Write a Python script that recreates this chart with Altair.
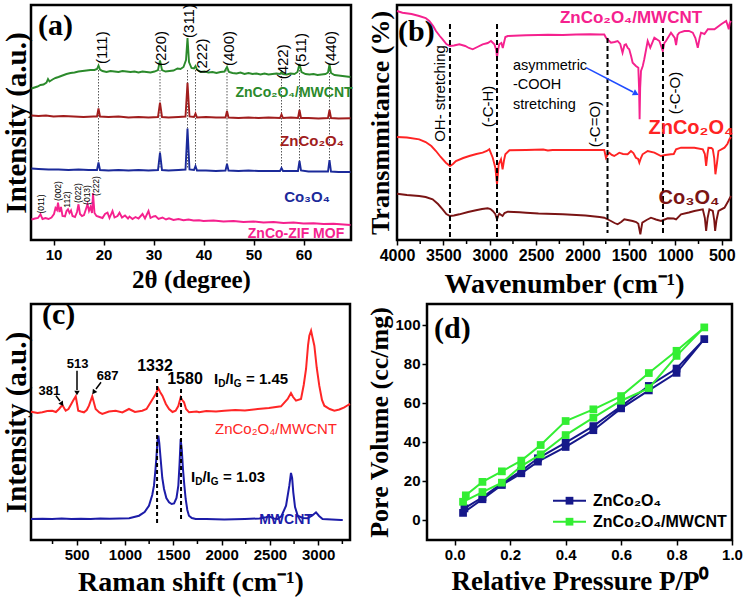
import altair as alt
import pandas as pd

SANS = "Liberation Sans"
SERIF = "Liberation Serif"

# ---------------- (a) XRD patterns: (2theta, intensity offset) ----------------
xrd_composite = [(5.6,151.5),(6.2,152.5),(6.8,153.5),(7.4,155.0),(8.0,155.5),(8.6,157.5),(8.9,161),(9.2,158.5),(9.8,160.5),(10.4,162.0),(11.0,163.0),(11.8,164.5),(12.6,166.0),(13.4,167.0),(14.2,167.5),(15.0,168.5),(15.8,169.0),(16.6,169.5),(17.4,170.0),(18.2,170.0),(18.7,171.0),(19.0,174.5),(19.3,170.5),(19.8,169.0),(20.6,168.0),(21.4,169.0),(22.2,168.5),(23.0,168.0),(23.8,169.0),(24.6,168.5),(25.4,168.0),(26.2,168.5),(27.0,167.5),(27.8,168.5),(28.6,168.0),(29.4,167.5),(30.2,168.5),(30.9,170.0),(31.3,179.5),(31.7,170.0),(32.4,168.5),(33.2,169.0),(34.0,169.5),(34.8,171.5),(35.4,171.0),(36.0,173.0),(36.5,180.0),(36.8,202.0),(37.1,178.0),(37.6,172.0),(38.1,171.5),(38.4,174.0),(38.7,170.5),(39.4,168.0),(40.2,168.5),(41.0,167.5),(41.8,168.0),(42.6,167.0),(43.4,168.0),(44.2,168.5),(44.7,173.0),(45.1,168.0),(45.8,167.0),(46.6,166.5),(47.4,167.5),(48.2,166.0),(49.0,167.0),(49.8,166.0),(50.6,166.5),(51.4,165.5),(52.2,166.5),(53.0,165.5),(53.8,166.0),(54.6,166.5),(55.3,166.0),(55.6,168.0),(55.9,166.0),(56.6,165.5),(57.4,166.5),(58.2,166.0),(58.8,168.0),(59.2,176.0),(59.6,168.0),(60.4,166.0),(61.2,165.5),(62.0,166.0),(62.8,165.0),(63.6,165.5),(64.4,166.0),(64.9,167.5),(65.2,175.5),(65.5,167.0),(66.2,165.0),(67.0,164.5),(67.8,164.0),(68.6,163.5),(69.4,163.0)]
xrd_spinel = [(5.6,124.5),(7,124),(8.5,124.5),(10,123.5),(12,124),(14,123.5),(16,123),(18,123.5),(18.7,123.5),(19.0,131.5),(19.3,123.5),(21,123),(23,123.5),(25,122.5),(27,123),(29,122.5),(30.9,123),(31.3,137.3),(31.7,123),(33,122.5),(35,123),(36.4,123.5),(36.8,157.3),(37.2,123.5),(38.1,123),(38.4,126.5),(38.7,122.5),(40.5,123),(42.5,122.5),(44.4,122.5),(44.7,129),(45.0,122.5),(47,122),(49,122.5),(51,122),(53,122.5),(55.3,122),(55.6,125.5),(55.9,122),(57.5,122.5),(58.9,122),(59.2,130),(59.5,122),(61,122),(63,121.5),(64.9,122),(65.2,130),(65.5,122),(67,121.5),(69.4,121.7)]
xrd_co3o4 = [(5.6,71.5),(7,71),(9,70.5),(11,70.5),(13,70),(15,70.5),(17,70),(18.7,70),(19.0,77.5),(19.3,70),(21,69.5),(23,70),(25,69.5),(27,70),(29,69.5),(30.9,70),(31.3,87.3),(31.7,70),(33,69.5),(35,70),(36.4,70.5),(36.8,111.5),(37.2,70.5),(38.1,70),(38.4,74),(38.7,69.5),(40.5,69.5),(42.5,69),(44.4,69.5),(44.7,76),(45.0,69.5),(47,69),(49,69.5),(51,69),(53,69),(55.3,69),(55.6,72),(55.9,69),(57.5,69),(58.9,69),(59.2,79),(59.5,69.5),(61,68.5),(63,68.5),(64.9,68.5),(65.2,80),(65.5,68.5),(67,68),(69.4,68)]
xrd_mof = [(5.6,20.5),(6.3,21.5),(6.9,22),(7.4,25.7),(7.8,21),(8.4,22),(9.0,21),(9.6,22.5),(10.1,26),(10.4,32),(10.7,30),(10.9,37.3),(11.2,28),(11.5,33),(11.8,24),(12.3,23.5),(12.6,29),(12.9,30.7),(13.2,27),(13.5,29.5),(13.8,24),(14.3,23),(14.7,28),(15.0,35.7),(15.3,26),(15.7,24),(16.1,25),(16.5,31),(16.8,35.7),(17.1,29),(17.4,33),(17.7,27),(17.9,46.7),(18.2,27),(18.6,24),(19.2,23),(19.8,22),(20.3,26),(20.8,27.3),(21.2,22),(21.8,29),(22.2,22.5),(22.8,24),(23.2,27.3),(23.7,22.5),(24.3,24.5),(24.9,21.5),(25.2,23.5),(25.8,21),(26.4,23),(27.0,21.5),(27.8,26),(28.3,21.5),(29.0,29),(29.4,22),(30.0,23.5),(30.4,24),(31.0,21),(31.8,22.5),(32.5,20.5),(33.1,21.7),(34,20),(35,21),(36,19.8),(37,20.5),(38,19.5),(39.1,19.7),(40,19),(42,19.5),(44,18.5),(46,19),(48,18),(50,18.5),(52,17.5),(54,18),(56,17),(58,17.5),(60,16.5),(62,16.8),(64,16),(66,16.2),(68,15.5),(69.4,15)]
spinel_peaks = [19.0, 31.3, 36.8, 38.4, 44.7, 55.6, 59.2, 65.2]
spinel_hkl = ["(111)", "(220)", "(311)", "(222)", "(400)", "(422)", "(511)", "(440)"]
mof_hkl = ["(011)", "(002)", "112)", "(022)", "(013)", "(222)"]
xrd_ticks = [10, 20, 30, 40, 50, 60]

# ---------------- (b) FTIR: (wavenumber, transmittance offset) ----------------
ftir_composite = [(4000,227),(3941,225.3),(3843,224),(3761,222),(3691,220),(3652,217),(3610,212),(3580,207),(3539,202),(3508,198.7),(3468,194),(3429,192),(3387,192.5),(3328,193.7),(3265,192),(3225,190),(3184,188.7),(3134,191),(3077,193.7),(3022,195),(2987,197),(2950,193.7),(2931,188),(2922,180.3),(2911,188),(2897,193.7),(2875,195),(2860,190),(2845,196),(2832,201),(2806,202),(2678,202.5),(2609,202.7),(2475,203),(2374,203.2),(2213,203),(2070,203.5),(1918,203.7),(1817,203.5),(1766,203.5),(1748,200.3),(1694,195.3),(1655,196),(1622,197),(1594,194),(1569,185.3),(1548,193),(1532,193.7),(1513,190),(1497,188.7),(1477,182),(1460,175.3),(1425,172),(1399,170.3),(1391,150),(1385,118.7),(1379,150),(1370,167),(1351,172),(1335,178.7),(1298,197),(1270,190.3),(1226,200.3),(1172,197),(1153,192),(1136,187),(1118,195),(1101,197),(1047,205.3),(1006,200),(992,193),(976,203),(957,205.3),(902,207),(854,207),(812,205.3),(784,200),(758,190.3),(738,200),(723,205.3),(686,204),(650,208.7),(578,208.7),(506,213.7),(452,217),(434,212),(424,208.7),(414,215),(400,217)]
ftir_spinel = [(4000,101),(3893,100.5),(3761,98.7),(3691,96),(3630,92),(3580,87),(3529,81),(3473,75.3),(3429,72),(3397,74),(3365,77),(3286,80),(3221,82),(3144,84),(3077,85.3),(3032,87),(3005,88.7),(2968,80.3),(2940,70.3),(2922,53.7),(2904,73.7),(2879,78.7),(2862,68.7),(2846,78),(2832,83.7),(2788,87.7),(2609,88),(2424,88.5),(2374,87.5),(2323,88),(2213,88),(1969,88),(1766,88),(1748,80.3),(1726,84),(1712,85.3),(1685,83),(1659,82),(1624,84),(1604,85.3),(1564,84),(1514,83.7),(1478,87),(1452,85),(1425,80.3),(1401,79),(1388,75.3),(1371,80),(1353,83.7),(1298,87),(1226,85.3),(1154,82),(1108,83),(1047,83.7),(1017,84),(992,88.7),(939,90.3),(795,90.3),(704,88.7),(682,84),(668,72),(652,85),(643,90.3),(611,90),(596,88.7),(581,80),(568,63.7),(551,75),(535,87),(470,90.3),(439,94),(417,98.7),(400,101)]
ftir_co3o4 = [(4000,44.3),(3893,43),(3761,42),(3691,41),(3616,38.7),(3558,34),(3508,28.7),(3468,24),(3429,22),(3387,22.5),(3328,23.7),(3234,26),(3149,27.7),(3083,29),(3023,29.7),(2992,29),(2968,27),(2941,24),(2922,18.7),(2906,23),(2897,24.3),(2862,22),(2841,25),(2806,26.3),(2678,25.8),(2609,25.3),(2475,24.5),(2213,23.7),(1969,22.5),(1817,21),(1766,20.3),(1726,18.5),(1694,17),(1655,15),(1622,13.7),(1584,16),(1550,18.7),(1513,18),(1460,17),(1422,16),(1399,14.3),(1386,8),(1377,3.7),(1366,10),(1356,15.3),(1310,18),(1263,20.3),(1209,18.5),(1154,17),(1082,19.7),(1017,19.5),(992,18.7),(939,23.7),(854,25.5),(795,27),(704,28.7),(682,20),(668,7),(652,20),(633,28.7),(596,27),(581,18),(571,7),(556,18),(535,27),(470,30.3),(429,37),(400,42)]
ftir_bands = [3429, 2922, 1731, 1133]
ftir_band_top = [214, 214, 200, 210]
ftir_band_bottom = [-2, -2, 5, 4]
ftir_ticks = [500, 1000, 1500, 2000, 2500, 3000, 3500, 4000]
ftir_minor_ticks = [750, 1250, 1750, 2250, 2750, 3250, 3750]

# ---------------- (c) Raman: (shift, intensity offset) ----------------
raman_composite = [(27,128.3),(95,127),(144,127.7),(195,129),(247,129.3),(285,128),(317,131),(351,135),(386,129.3),(415,131),(438,135),(462,139.3),(490,143.7),(516,129.3),(544,128.5),(575,127.7),(604,130),(627,134.3),(661,143.7),(696,131),(734,127.5),(765,126),(834,128.5),(903,129.3),(973,127.5),(1041,131),(1103,128),(1179,129.3),(1223,131),(1266,137.7),(1318,146),(1345,151.7),(1363,148),(1387,144.3),(1423,136),(1456,131),(1492,128),(1524,129.3),(1552,134),(1576,142.7),(1592,140),(1611,137.7),(1632,131),(1663,127.7),(1742,128.5),(1767,127.7),(1842,129),(1942,128.5),(2028,129.3),(2141,130),(2241,129.5),(2374,131),(2490,132),(2615,133.7),(2684,141),(2718,147),(2740,143),(2770,139.3),(2822,141),(2850,155),(2874,171),(2895,195),(2908,204.3),(2926,209.3),(2940,203),(2960,194.3),(2985,172),(3011,154.3),(3039,140),(3063,134.3),(3119,131),(3167,129.3),(3219,130.5),(3270,132.7),(3309,135),(3329,136)]
raman_mwcnt = [(27,21),(146,21.3),(245,21),(345,21.5),(444,21),(544,21.2),(644,21),(744,21.5),(843,21.3),(943,21.5),(1043,21.8),(1145,24.3),(1203,28),(1248,34.3),(1282,45),(1300,54.3),(1315,70),(1324,81),(1335,98),(1345,104.3),(1355,97),(1369,81),(1386,62),(1404,51),(1428,42),(1456,37.7),(1483,36),(1508,36.5),(1533,42),(1552,54.3),(1564,75),(1576,101),(1588,90),(1600,71),(1614,55),(1628,41),(1645,30),(1662,24.3),(1692,22),(1732,21),(1842,21),(2028,20.5),(2241,21),(2391,21.5),(2459,22.7),(2492,23.7),(2540,21.5),(2580,21),(2620,24),(2667,34.3),(2701,54.3),(2718,67),(2730,62),(2742,47.7),(2760,33),(2788,24.3),(2840,22),(2890,21.7),(2939,24.5),(2977,27.7),(3009,24),(3045,21),(3139,20.5),(3236,20),(3254,20)]
raman_bands = [1332, 1580]
raman_band_top = [161, 151]
raman_band_bottom = [14.3, 19.3]
raman_ticks = [500, 1000, 1500, 2000, 2500, 3000]
raman_minor_ticks = [250, 750, 1250, 1750, 2250, 2750, 3250]

# ---------------- (d) N2 isotherms: adsorption then desorption branch ----------------
p_zco = [0.03, 0.1, 0.17, 0.24, 0.3, 0.4, 0.5, 0.6, 0.7, 0.8, 0.9, 0.8, 0.7, 0.6, 0.5, 0.4, 0.3, 0.24, 0.17, 0.1, 0.035]
v_zco = [3.5, 10.5, 17.8, 23.8, 29.8, 37.3, 45.9, 57.1, 66.3, 75.3, 92.6, 77.5, 68.6, 58.2, 48.0, 39.5, 31.5, 25.0, 18.7, 11.5, 5.8]
p_zcm = [0.03, 0.1, 0.17, 0.24, 0.31, 0.4, 0.5, 0.6, 0.7, 0.8, 0.9, 0.8, 0.7, 0.6, 0.5, 0.4, 0.31, 0.24, 0.17, 0.1, 0.04]
v_zcm = [9.2, 14.2, 19.0, 27.5, 33.5, 43.4, 52.3, 61.0, 67.5, 84.0, 98.6, 86.6, 75.2, 63.4, 56.6, 50.6, 38.3, 30.3, 24.8, 19.4, 12.5]
pressure_ticks = [0, 0.2, 0.4, 0.6, 0.8, 1.0]
volume_ticks = [0, 20, 40, 60, 80, 100]

GREEN_A = "#2b8a2b"
RED_A = "#a11d1d"
BLUE_A = "#1b2a9a"
PINK = "#f5218e"
RED_B = "#ff2323"
DARK_B = "#7a1414"
RED_C = "#ff2626"
BLUE_C = "#1c1ca8"
NAVY_D = "#16188a"
GREEN_D = "#33ee33"

LINE_W = 1.9


def frame(pairs):
    return pd.DataFrame(pairs, columns=["x", "y"])


def curve(pairs, color, X, Y, width=LINE_W):
    return alt.Chart(frame(pairs)).mark_line(color=color, strokeWidth=width).encode(x=X, y=Y)


def note(text, x, y, size, color="black", weight="normal", font=SANS, angle=0, align="center", baseline="middle"):
    return alt.Chart(pd.DataFrame({"t": [text]})).mark_text(
        font=font, fontSize=size, fontWeight=weight, color=color, angle=angle,
        align=align, baseline=baseline,
    ).encode(x=alt.value(x), y=alt.value(y), text="t:N")


def arrow_line(x1, y1, x2, y2, color="black", width=1.5):
    return alt.Chart(pd.DataFrame({"k": [0]})).mark_rule(color=color, strokeWidth=width).encode(
        x=alt.value(x1), y=alt.value(y1), x2=alt.value(x2), y2=alt.value(y2))


def arrow_head(x, y, shape, angle, color="black", size=40):
    return alt.Chart(pd.DataFrame({"k": [0]})).mark_point(
        shape=shape, filled=True, color=color, size=size, angle=angle, opacity=1).encode(
        x=alt.value(x), y=alt.value(y))


def ratio_note(value, x, y):
    # I_D / I_G with the D and G set as subscripts
    parts = [("I", 0, 0, 15), ("D", 4.2, 5, 10), ("/I", 11.4, 0, 15), ("G", 19.8, 5, 10),
             ("=", 32, 0, 15), (value, 45, 0, 15)]
    return [note(t, x + dx, y + dy, s, weight="bold", align="left") for t, dx, dy, s in parts]


def bands(xs, tops, bottoms, X, Y, dash, width, color="black"):
    df = pd.DataFrame({"x": xs, "y": tops, "y2": bottoms})
    return alt.Chart(df).mark_rule(color=color, strokeDash=dash, strokeWidth=width).encode(
        x=X, y=Y, y2="y2:Q")


def minor_ticks(values, X, plot_h):
    # short outward ticks between the labelled ones
    return alt.Chart(pd.DataFrame({"x": values})).mark_rule(color="black", strokeWidth=1.5).encode(
        x=X, y=alt.value(plot_h), y2=alt.value(plot_h + 4))


# ---------------- panel (a) ----------------
Xa = alt.X("x:Q", title="2θ (degree)",
           scale=alt.Scale(domain=[5.5, 69.5], nice=False, zero=False),
           axis=alt.Axis(values=xrd_ticks, format="d", labelFontSize=15,
                         titleFontSize=25, titlePadding=5, labelPadding=2))
Ya = alt.Y("y:Q", title="Intensity (a.u.)",
           scale=alt.Scale(domain=[0, 235], nice=False, zero=False),
           axis=alt.Axis(labels=False, ticks=False, titleFontSize=29, titlePadding=0))

layers_a = [
    bands(spinel_peaks, [170] * 8, [72] * 8, Xa, Ya, [1.5, 1.5], 0.9, "#444444"),
    curve(xrd_mof, PINK, Xa, Ya),
    curve(xrd_co3o4, BLUE_A, Xa, Ya),
    curve(xrd_spinel, RED_A, Xa, Ya),
    curve(xrd_composite, GREEN_A, Xa, Ya),
]
hkl_pos = [(70.5, 42.7), (130, 43.5), (157.5, 16), (170.5, 51), (198, 43.5), (251.7, 56.8), (270, 45), (300, 43.5)]
for lab, (px, py) in zip(spinel_hkl, hkl_pos):
    layers_a.append(note(lab, px, py, 15, angle=270))
mof_pos = [(9.7, 199), (27.3, 186), (36.3, 194.5), (47, 188), (56.3, 190), (64.7, 181)]
for lab, (px, py) in zip(mof_hkl, mof_pos):
    layers_a.append(note(lab, px, py, 8.5, angle=270))
layers_a += [
    note("(a)", 7, 21, 30, weight="bold", font=SERIF, align="left"),
    note("ZnCo₂O₄/MWCNT", 263, 88, 14, GREEN_A, "bold"),
    note("ZnCo₂O₄", 281, 136, 15, RED_A, "bold"),
    note("Co₃O₄", 276, 192, 15, BLUE_A, "bold"),
    note("ZnCo-ZIF MOF", 265, 229, 14, PINK, "bold"),
]
panel_a = alt.layer(*layers_a).properties(width=320, height=235)

# ---------------- panel (b) ----------------
Xb = alt.X("x:Q", title="Wavenumber (cm⁻¹)",
           scale=alt.Scale(domain=[400, 4000], reverse=True, nice=False, zero=False),
           axis=alt.Axis(values=ftir_ticks, format="d",
                         labelFontSize=16, titleFontSize=28, titlePadding=7, labelPadding=2))
Yb = alt.Y("y:Q", title="Transmmitance (%)",
           scale=alt.Scale(domain=[-2, 233], nice=False, zero=False),
           axis=alt.Axis(labels=False, ticks=False, titleFontSize=26, titlePadding=4))

layers_b = [
    curve(ftir_co3o4, DARK_B, Xb, Yb),
    curve(ftir_spinel, RED_B, Xb, Yb),
    curve(ftir_composite, PINK, Xb, Yb),
    bands(ftir_bands, ftir_band_top, ftir_band_bottom, Xb, Yb, [5, 3], 2),
    minor_ticks(ftir_minor_ticks, Xb, 235),
    note("(b)", 1, 27, 30, weight="bold", font=SERIF, align="left"),
    note("ZnCo₂O₄/MWCNT", 234, 13, 17, PINK, "bold"),
    note("OH- stretching", 42.7, 88.5, 15, angle=270),
    note("(-C-H)", 91, 101.5, 15, angle=270),
    note("asymmetric", 116, 61, 14.5, align="left"),
    note("-COOH", 116, 80, 14.5, align="left"),
    note("stretching", 116, 100, 14.5, align="left"),
    note("(-C=O)", 197.7, 119, 15, angle=270),
    note("(-C-O)", 277.7, 88, 15, angle=270),
    note("ZnCo₂O₄", 294, 123, 20, RED_B, "bold"),
    note("Co₃O₄", 292, 193, 20, DARK_B, "bold"),
    arrow_line(189, 62.7, 236, 87, "#1f4cff", 1.5),
    arrow_head(239, 88.6, "triangle-right", 27, "#1f4cff", 45),
]
panel_b = alt.layer(*layers_b).properties(width=334, height=235)

# ---------------- panel (c) ----------------
Xc = alt.X("x:Q", title="Raman shift (cm⁻¹)",
           scale=alt.Scale(domain=[27, 3329], nice=False, zero=False),
           axis=alt.Axis(values=raman_ticks, format="d",
                         labelFontSize=15, titleFontSize=28, titlePadding=6, labelPadding=2))
Yc = alt.Y("y:Q", title="Intensity (a.u.)",
           scale=alt.Scale(domain=[0, 236], nice=False, zero=False),
           axis=alt.Axis(labels=False, ticks=False, titleFontSize=29, titlePadding=0))

layers_c = [
    curve(raman_mwcnt, BLUE_C, Xc, Yc, 2),
    curve(raman_composite, RED_C, Xc, Yc, 2),
    bands(raman_bands, raman_band_top, raman_band_bottom, Xc, Yc, [4, 3], 2),
    minor_ticks(raman_minor_ticks, Xc, 236),
    note("(c)", 11, 11, 30, weight="bold", font=SERIF, align="left"),
    note("381", 18.3, 86.7, 13, weight="bold"),
    note("513", 46.7, 60, 13, weight="bold"),
    note("687", 76.7, 71.7, 13, weight="bold"),
    note("1332", 124, 61.7, 16, weight="bold"),
    note("1580", 154, 75, 16, weight="bold"),
    note("ZnCo₂O₄/MWCNT", 245, 125, 15, RED_C),
    note("MWCNT", 255, 215.7, 14, BLUE_C, "bold"),
    arrow_line(25, 91.7, 29, 97),
    arrow_head(31, 100, "triangle-down", 324, size=30),
    arrow_line(46, 66.7, 46, 86),
    arrow_head(46, 89, "triangle-down", 0, size=30),
    arrow_line(70, 78.3, 65, 85),
    arrow_head(62.7, 88.3, "triangle-down", 36, size=30),
] + ratio_note("1.45", 183, 75) + ratio_note("1.03", 160, 173)
panel_c = alt.layer(*layers_c).properties(width=319, height=236)

# ---------------- panel (d) ----------------
Xd = alt.X("x:Q", title="Relative Pressure P/P⁰",
           scale=alt.Scale(domain=[-0.1, 1.0], nice=False, zero=False),
           axis=alt.Axis(values=pressure_ticks, format=".1f", labelFontSize=15,
                         titleFontSize=27, titlePadding=6, labelPadding=2))
Yd = alt.Y("y:Q", title="Pore Volume (cc/mg)",
           scale=alt.Scale(domain=[-10.4, 110.6], nice=False, zero=False),
           axis=alt.Axis(values=volume_ticks, labelFontSize=15,
                         titleFontSize=26, titlePadding=2, labelPadding=2))


def isotherm(ps, vs, color):
    df = pd.DataFrame({"x": ps, "y": vs, "i": list(range(len(ps)))})
    base = alt.Chart(df).encode(x=Xd, y=Yd, order="i:Q")
    return base.mark_line(color=color, strokeWidth=2) + base.mark_point(
        shape="square", filled=True, color=color, size=60, opacity=1)


layers_d = [
    isotherm(p_zco, v_zco, NAVY_D),
    isotherm(p_zcm, v_zcm, GREEN_D),
    note("(d)", 7, 25, 30, weight="bold", font=SERIF, align="left"),
    arrow_line(126, 196.7, 159, 196.7, NAVY_D, 2),
    arrow_head(142.5, 196.7, "square", 0, NAVY_D, 60),
    note("ZnCo₂O₄", 166, 197, 16, weight="bold", align="left"),
    arrow_line(126, 217.7, 159, 217.7, GREEN_D, 2),
    arrow_head(142.5, 217.7, "square", 0, GREEN_D, 60),
    note("ZnCo₂O₄/MWCNT", 166, 218, 16, weight="bold", align="left"),
]
panel_d = alt.layer(*layers_d).properties(width=305, height=236)

row1 = alt.hconcat(panel_a, panel_b, spacing=46, bounds="flush")
row2 = alt.hconcat(panel_c, panel_d, spacing=77, bounds="flush")

chart = alt.vconcat(row1, row2, spacing=-2).properties(
    padding={"left": 0, "top": 2, "right": 0, "bottom": 0},
    background="white",
).configure_view(
    stroke="black", strokeWidth=2.5
).configure_axis(
    labelFont=SANS, labelFontWeight="bold", labelColor="black",
    titleFont=SERIF, titleFontWeight="bold", titleColor="black",
    domain=False, grid=False, tickColor="black", tickSize=5, tickWidth=1.5,
    labelOverlap=False, labelFlush=False,
)

chart.save("out.html", embed_options={"renderer": "svg", "actions": False})
